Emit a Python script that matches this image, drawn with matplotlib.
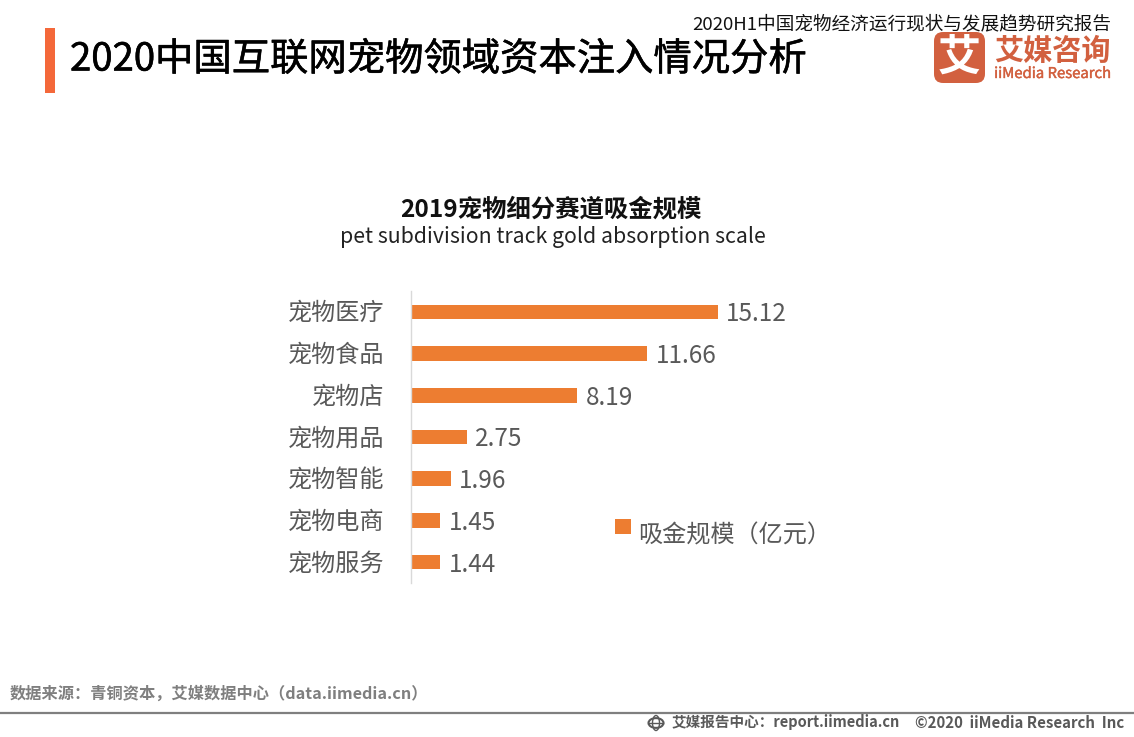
import matplotlib
matplotlib.use('Agg')
from matplotlib import pyplot as plt
from matplotlib import patheffects as pe
from matplotlib.patches import FancyBboxPatch, Rectangle, Circle, Ellipse
from matplotlib.lines import Line2D
from matplotlib.transforms import ScaledTranslation

plt.rcParams['font.family'] = ['Noto Sans CJK SC', 'DejaVu Sans']

W, H = 1134, 737

categories = ['宠物医疗', '宠物食品', '宠物店', '宠物用品', '宠物智能', '宠物电商', '宠物服务']
values = [15.12, 11.66, 8.19, 2.75, 1.96, 1.45, 1.44]
value_labels = ['15.12', '11.66', '8.19', '2.75', '1.96', '1.45', '1.44']
legend_label = '吸金规模（亿元）'

title = '2020中国互联网宠物领域资本注入情况分析'
report_name = '2020H1中国宠物经济运行现状与发展趋势研究报告'
chart_title = '2019宠物细分赛道吸金规模'
chart_subtitle = 'pet subdivision track gold absorption scale'
source = '数据来源：青铜资本，艾媒数据中心（data.iimedia.cn）'
footer_left = '艾媒报告中心：report.iimedia.cn'
footer_right = '©2020  iiMedia Research  Inc'

ORANGE = '#ED7D31'
LOGO = '#D2603F'
GREY = '#595959'


# pixel position in the picture -> figure fraction
def fx(x):
    return x / W


def fy(y):
    return 1 - y / H


fig = plt.figure(figsize=(W / 100, H / 100), dpi=100, facecolor='white')

# header
fig.add_artist(Rectangle((fx(45), fy(93)), 10 / W, 65 / H, transform=fig.transFigure,
                         color='#F4683A', lw=0))
fig.text(fx(70), fy(60), title, fontsize=27.6, color='black', va='center', ha='left',
         path_effects=[pe.withStroke(linewidth=0.4, foreground='black')])
fig.text(fx(1111), fy(24.5), report_name, fontsize=13.4, color='#111111', va='center', ha='right')

# logo
fig.add_artist(FancyBboxPatch((fx(934), fy(83)), 51 / W, 51 / H, transform=fig.transFigure,
                              boxstyle='round,pad=0,rounding_size=0.008', mutation_aspect=W / H,
                              fc=LOGO, ec='none', lw=0))
fig.text(fx(959.5), fy(58), '艾', fontsize=31, color='white', va='center', ha='center',
         fontweight='bold')
fig.text(fx(1052), fy(51), '艾媒咨询', fontsize=21, color=LOGO, va='center', ha='center',
         fontweight='bold')
fig.text(fx(1052.5), fy(74), 'iiMedia Research', fontsize=10.7, color=LOGO, va='center', ha='center',
         path_effects=[pe.withStroke(linewidth=0.3, foreground=LOGO)])

# chart titles
fig.text(fx(551), fy(209.5), chart_title, fontsize=17.6, color='#111111', va='center', ha='center',
         fontweight='bold')
fig.text(fx(553), fy(237.5), chart_subtitle, fontsize=15.3, color='#222222', va='center', ha='center')

# bars
ax = fig.add_axes([fx(411), fy(583), 405.5 / W, 292 / H])
pos = list(range(len(categories)))
ax.barh(pos, values, height=0.35, color=ORANGE)
ax.set_ylim(len(categories) - 0.5, -0.5)
ax.set_xlim(0, 20)
ax.set_yticks(pos)
ax.set_yticklabels(categories, fontsize=17.4, color=GREY)
ax.tick_params(axis='y', length=0, pad=19)
ax.set_xticks([])
for lab in ax.get_yticklabels():
    lab.set_transform(lab.get_transform() + ScaledTranslation(0, 1.5 / 100, fig.dpi_scale_trans))
for s in ['top', 'right', 'bottom']:
    ax.spines[s].set_visible(False)
ax.spines['left'].set_color('#D9D9D9')
ax.spines['left'].set_linewidth(1)
ax.patch.set_alpha(0)

for p, v, lab in zip(pos, values, value_labels):
    ax.annotate(lab, (v, p), xytext=(6, -1.8), textcoords='offset points', fontsize=17.5,
                color=GREY, va='center', ha='left')

# legend
fig.add_artist(Rectangle((fx(615), fy(534)), 16 / W, 15 / H, transform=fig.transFigure,
                         color=ORANGE, lw=0))
fig.text(fx(638), fy(536), legend_label, fontsize=17.4, color=GREY, va='center', ha='left')

# footer
fig.text(fx(10), fy(693.5), source, fontsize=11.7, color='#7F7F7F', va='center', ha='left',
         fontweight='bold')
fig.add_artist(Line2D([0, 1], [fy(712.5), fy(712.5)], transform=fig.transFigure,
                      color='#7F7F7F', lw=1.6))
# small globe icon
fig.add_artist(Circle((fx(656), fy(723)), 7.5 / W, transform=fig.transFigure, fc='none',
                      ec=GREY, lw=1.5))
fig.add_artist(Ellipse((fx(656), fy(723)), 7 / W, 15 / H, transform=fig.transFigure, fc='none',
                       ec=GREY, lw=1))
fig.add_artist(Line2D([fx(649), fx(663)], [fy(723), fy(723)], transform=fig.transFigure,
                      color=GREY, lw=1))
fig.text(fx(900), fy(722.5), footer_left, fontsize=10.5, color=GREY, va='center', ha='right',
         fontweight='bold')
fig.text(fx(1124), fy(722.5), footer_right, fontsize=10.8, color=GREY, va='center', ha='right',
         fontweight='bold')

fig.savefig('out.png', dpi=100, facecolor='white')
